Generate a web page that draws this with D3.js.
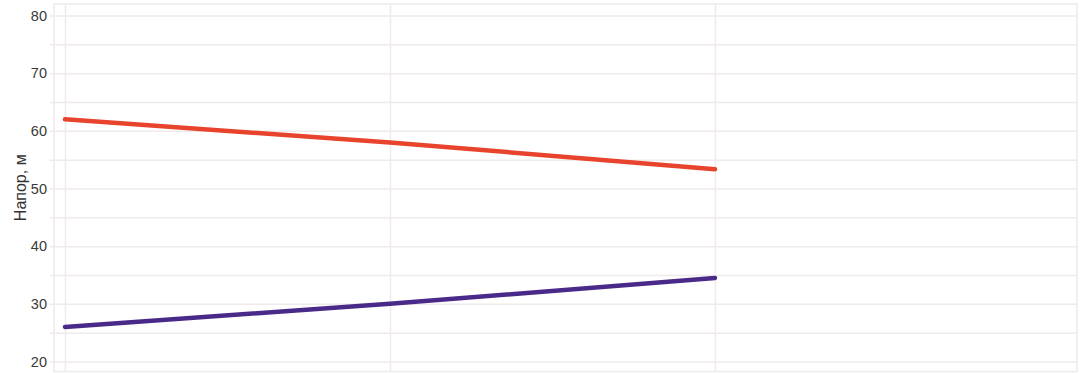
<!DOCTYPE html>
<html>
<head>
<meta charset="utf-8">
<script src="https://cdn.jsdelivr.net/npm/d3@7"></script>
<style>
  html, body { margin: 0; padding: 0; background: #fff; }
  svg { display: block; }
</style>
</head>
<body>
<svg id="chart" width="1086" height="373"></svg>
<script>
// Data
const xPoints = [0, 1, 2];
const seriesRed = [62.0, 58.0, 53.35];
const seriesPurple = [26.0, 30.0, 34.5];
const yTickLabels = [20, 30, 40, 50, 60, 70, 80];
const yGridValues = [20, 25, 30, 35, 40, 45, 50, 55, 60, 65, 70, 75, 80];
const yLabel = "Напор, м";

(function () {
const svg = d3.select("#chart");
const pLeft = 54, pRight = 1077, pTop = 4, pBottom = 371.5;

const x = d3.scaleLinear().domain([-0.0338, 3.114]).range([pLeft, pRight]);
const y = d3.scaleLinear().domain([18.27, 82.0]).range([pBottom, pTop]);

const gridColor = "#f0eaea";

// horizontal grid lines (extend 4px left of plot as ticks)
svg.append("g")
  .attr("transform", `translate(${pRight},0)`)
  .call(d3.axisLeft(y).tickValues(yGridValues).tickSize(pRight - pLeft + 4).tickFormat(""))
  .call(g => g.select(".domain").remove())
  .call(g => g.selectAll(".tick line").attr("stroke", gridColor).attr("stroke-width", 1.5));

// vertical grid lines
svg.append("g")
  .attr("transform", `translate(0,${pBottom})`)
  .call(d3.axisBottom(x).tickValues(xPoints).tickSize(-(pBottom - pTop)).tickFormat(""))
  .call(g => g.select(".domain").remove())
  .call(g => g.selectAll(".tick line").attr("stroke", gridColor).attr("stroke-width", 1.5));

// plot border
svg.append("rect")
  .attr("x", pLeft).attr("y", pTop)
  .attr("width", pRight - pLeft).attr("height", pBottom - pTop)
  .attr("fill", "none").attr("stroke", gridColor).attr("stroke-width", 1.5);

// y tick labels
svg.append("g")
  .attr("transform", `translate(${pLeft},0)`)
  .call(d3.axisLeft(y).tickValues(yTickLabels).tickSize(0).tickPadding(7))
  .call(g => g.select(".domain").remove())
  .call(g => g.selectAll("text")
      .attr("font-family", "Liberation Sans, Arial, sans-serif")
      .attr("font-size", 14.5)
      .attr("fill", "#3a3a3a"));

// y axis label
svg.append("text")
  .attr("transform", `translate(26,${(pBottom + pTop) / 2}) rotate(-90)`)
  .attr("text-anchor", "middle")
  .attr("font-family", "Liberation Sans, Arial, sans-serif")
  .attr("font-size", 16)
  .attr("fill", "#333")
  .text(yLabel);

const line = d3.line().x((d, i) => x(xPoints[i])).y(d => y(d));

svg.append("path")
  .datum(seriesRed)
  .attr("d", line)
  .attr("fill", "none")
  .attr("stroke", "#e8432d")
  .attr("stroke-width", 4.5)
  .attr("stroke-linecap", "round");

svg.append("path")
  .datum(seriesPurple)
  .attr("d", line)
  .attr("fill", "none")
  .attr("stroke", "#4a2a88")
  .attr("stroke-width", 4.5)
  .attr("stroke-linecap", "round");
})();
</script>
</body>
</html>
